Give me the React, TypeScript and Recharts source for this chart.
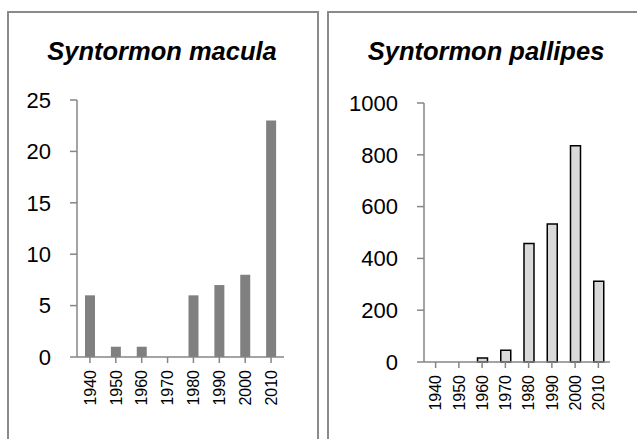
import React from "react";
import { BarChart, Bar, XAxis, YAxis } from "recharts";

const years = ["1940", "1950", "1960", "1970", "1980", "1990", "2000", "2010"];
const maculaValues = [6, 1, 1, 0, 6, 7, 8, 23];
const pallipesValues = [0, 0, 15, 45, 458, 533, 835, 312];
const maculaTicks = [0, 5, 10, 15, 20, 25];
const pallipesTicks = [0, 200, 400, 600, 800, 1000];

const maculaData = years.map((y, i) => ({ year: y, value: maculaValues[i] }));
const pallipesData = years.map((y, i) => ({ year: y, value: pallipesValues[i] }));

const FONT = "'Liberation Sans', Arial, sans-serif";
const AXIS = "#868686";

const RotTick = (props: any) => {
  const { x, y, payload } = props;
  return (
    <g transform={`translate(${x},${y})`}>
      <text
        transform="rotate(-90)"
        x={-5}
        y={0}
        dy="0.36em"
        textAnchor="end"
        fontSize={16}
        fontFamily={FONT}
        fill="#000"
      >
        {payload.value}
      </text>
    </g>
  );
};

const panelStyle = (left: number, width: number): React.CSSProperties => ({
  position: "absolute",
  left,
  top: 11,
  width,
  height: 460,
  border: "2px solid #8a8a8a",
  boxSizing: "border-box",
});

const titleStyle = (cx: number): React.CSSProperties => ({
  position: "absolute",
  left: cx - 150,
  width: 300,
  top: 36,
  textAlign: "center",
  fontFamily: FONT,
  fontWeight: "bold",
  fontStyle: "italic",
  fontSize: 25.5,
  lineHeight: "30px",
  color: "#000",
  whiteSpace: "nowrap",
});

export default function App() {
  return (
    <div
      style={{
        position: "fixed",
        left: 0,
        top: 0,
        width: 637,
        height: 439,
        overflow: "hidden",
        background: "#fff",
      }}
    >
      <div style={panelStyle(7, 312)} />
      <div style={panelStyle(327, 380)} />
      <div style={titleStyle(162)}>Syntormon macula</div>
      <div style={titleStyle(486)}>Syntormon pallipes</div>

      <div style={{ position: "absolute", left: 0, top: 0 }}>
        <BarChart
          width={317}
          height={439}
          data={maculaData}
          margin={{ top: 100, right: 33, bottom: 32, left: 0 }}
          barCategoryGap={0}
        >
          <XAxis
            dataKey="year"
            height={50}
            interval={0}
            tick={<RotTick />}
            tickSize={6}
            tickMargin={2}
            stroke={AXIS}
            axisLine={{ stroke: AXIS, strokeWidth: 1.5 }}
            tickLine={{ stroke: AXIS, strokeWidth: 1.5 }}
          />
          <YAxis
            width={77}
            domain={[0, 25]}
            ticks={maculaTicks}
            interval={0}
            tickSize={7}
            tickMargin={19}
            axisLine={{ stroke: AXIS, strokeWidth: 1.5 }}
            tickLine={{ stroke: AXIS, strokeWidth: 1.5 }}
            tick={{ fontSize: 22, fontFamily: FONT, fill: "#000" }}
          />
          <Bar dataKey="value" fill="#808080" barSize={10} isAnimationActive={false} />
        </BarChart>
      </div>

      <div style={{ position: "absolute", left: 320, top: 0 }}>
        <BarChart
          width={317}
          height={439}
          data={pallipesData}
          margin={{ top: 103, right: 27, bottom: 27, left: 0 }}
          barCategoryGap={0}
        >
          <XAxis
            dataKey="year"
            height={50}
            interval={0}
            tick={<RotTick />}
            tickSize={6}
            tickMargin={2}
            stroke={AXIS}
            axisLine={{ stroke: AXIS, strokeWidth: 1.5 }}
            tickLine={{ stroke: AXIS, strokeWidth: 1.5 }}
          />
          <YAxis
            width={104}
            domain={[0, 1000]}
            ticks={pallipesTicks}
            interval={0}
            tickSize={7}
            tickMargin={19}
            axisLine={{ stroke: AXIS, strokeWidth: 1.5 }}
            tickLine={{ stroke: AXIS, strokeWidth: 1.5 }}
            tick={{ fontSize: 22, fontFamily: FONT, fill: "#000" }}
          />
          <Bar
            dataKey="value"
            fill="#d9d9d9"
            stroke="#000"
            strokeWidth={1.5}
            barSize={10}
            isAnimationActive={false}
          />
        </BarChart>
      </div>
    </div>
  );
}
